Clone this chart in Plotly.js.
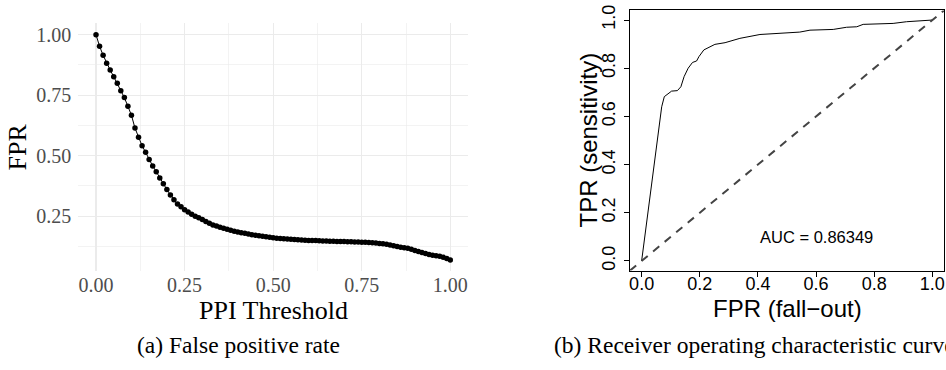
<!DOCTYPE html>
<html>
<head>
<meta charset="utf-8">
<script src="https://cdn.plot.ly/plotly-3.0.1.min.js"></script>
<style>html,body{margin:0;padding:0;background:#fff;}#chart{width:946px;height:370px;}</style>
</head>
<body>
<div id="chart"></div>
<script>
// Panel (a): FPR vs PPI threshold
const thresholds = [0.00,0.01,0.02,0.03,0.04,0.05,0.06,0.07,0.08,0.09,0.10,0.11,0.12,0.13,0.14,0.15,0.16,0.17,0.18,0.19,0.20,0.21,0.22,0.23,0.24,0.25,0.26,0.27,0.28,0.29,0.30,0.31,0.32,0.33,0.34,0.35,0.36,0.37,0.38,0.39,0.40,0.41,0.42,0.43,0.44,0.45,0.46,0.47,0.48,0.49,0.50,0.51,0.52,0.53,0.54,0.55,0.56,0.57,0.58,0.59,0.60,0.61,0.62,0.63,0.64,0.65,0.66,0.67,0.68,0.69,0.70,0.71,0.72,0.73,0.74,0.75,0.76,0.77,0.78,0.79,0.80,0.81,0.82,0.83,0.84,0.85,0.86,0.87,0.88,0.89,0.90,0.91,0.92,0.93,0.94,0.95,0.96,0.97,0.98,0.99,1.00];
const fprValues = [1.000,0.952,0.915,0.882,0.854,0.826,0.799,0.768,0.740,0.704,0.667,0.614,0.576,0.541,0.514,0.484,0.457,0.434,0.408,0.384,0.360,0.338,0.318,0.300,0.289,0.277,0.267,0.258,0.250,0.243,0.236,0.228,0.221,0.214,0.209,0.204,0.200,0.196,0.192,0.188,0.185,0.182,0.179,0.176,0.173,0.171,0.169,0.167,0.165,0.163,0.161,0.159,0.158,0.157,0.156,0.155,0.154,0.153,0.152,0.151,0.150,0.149,0.149,0.148,0.147,0.147,0.146,0.146,0.145,0.145,0.145,0.144,0.144,0.143,0.143,0.142,0.142,0.141,0.140,0.139,0.137,0.136,0.134,0.131,0.128,0.125,0.122,0.120,0.117,0.113,0.108,0.104,0.100,0.096,0.092,0.089,0.086,0.084,0.080,0.075,0.069];
const leftTicks = [0.00,0.25,0.50,0.75,1.00];
const leftTickText = ["0.00","0.25","0.50","0.75","1.00"];
const leftYTicks = [0.25,0.50,0.75,1.00];
const leftYTickText = ["0.25","0.50","0.75","1.00"];

// Panel (b): ROC curve
const rocFPR = [0.000,0.023,0.046,0.069,0.078,0.090,0.103,0.123,0.135,0.146,0.160,0.175,0.189,0.197,0.214,0.252,0.287,0.338,0.407,0.544,0.579,0.659,0.705,0.740,0.762,0.865,0.911,1.000];
const rocTPR = [0.000,0.210,0.433,0.640,0.682,0.695,0.705,0.707,0.723,0.765,0.800,0.824,0.830,0.848,0.876,0.899,0.906,0.924,0.940,0.950,0.958,0.961,0.970,0.972,0.982,0.986,0.993,1.000];
const diagonal = [-0.04, 1.04];
const rocTicks = [0.0,0.2,0.4,0.6,0.8,1.0];
const rocTickText = ["0.0","0.2","0.4","0.6","0.8","1.0"];
const aucLabel = "AUC = 0.86349";
const aucPos = [0.6, 0.1];

const W = 946, H = 370;
const px = v => v / W, py = v => 1 - v / H;

const serif = "Liberation Serif, Times New Roman, serif";
const sans = "Liberation Sans, Arial, Helvetica, sans-serif";

const traces = [
  {x: thresholds, y: fprValues, xaxis: "x", yaxis: "y", type: "scatter", mode: "lines+markers",
   line: {color: "#000", width: 1}, marker: {color: "#000", size: 5.5}},
  {x: rocFPR, y: rocTPR, xaxis: "x2", yaxis: "y2", type: "scatter", mode: "lines",
   line: {color: "#000", width: 1}},
  {x: diagonal, y: diagonal, xaxis: "x2", yaxis: "y2", type: "scatter", mode: "lines",
   line: {color: "#444", width: 2, dash: "8px,7px"}}
];

const grid = "#ebebeb";
const layout = {
  width: W, height: H, margin: {l: 0, r: 0, t: 0, b: 0},
  paper_bgcolor: "#fff", plot_bgcolor: "#fff", showlegend: false,
  xaxis: {anchor: "y", domain: [px(78.3), px(468)], range: [-0.05, 1.05], tickmode: "array",
    tickvals: leftTicks, ticktext: leftTickText, showgrid: true, gridcolor: grid, gridwidth: 1.1,
    minor: {tick0: 0.125, dtick: 0.25, showgrid: true, gridcolor: grid, gridwidth: 0.6},
    zeroline: false, showline: false, ticks: "", ticklabelstandoff: 0,
    tickfont: {family: serif, size: 20, color: "#4d4d4d"}},
  yaxis: {anchor: "x", domain: [py(271), py(23.4)], range: [0.0235, 1.0465], tickmode: "array",
    tickvals: leftYTicks, ticktext: leftYTickText, showgrid: true, gridcolor: grid, gridwidth: 1.1,
    minor: {tick0: 0.125, dtick: 0.25, showgrid: true, gridcolor: grid, gridwidth: 0.6},
    zeroline: false, showline: false, ticks: "", ticklabelstandoff: 6,
    tickfont: {family: serif, size: 20, color: "#4d4d4d"}},
  xaxis2: {anchor: "y2", domain: [px(630), px(944)], range: [-0.04, 1.04], tickmode: "array",
    tickvals: rocTicks, ticktext: rocTickText, showgrid: false, zeroline: false,
    showline: true, mirror: true, linecolor: "#000", linewidth: 1,
    ticks: "outside", ticklen: 5, tickcolor: "#000", tickwidth: 1, ticklabelstandoff: -8,
    tickfont: {family: sans, size: 18, color: "#000"}},
  yaxis2: {anchor: "x2", domain: [py(270.6), py(10.4)], range: [-0.04, 1.04], tickmode: "array",
    tickvals: rocTicks, ticktext: rocTickText, showgrid: false, zeroline: false,
    showline: true, mirror: true, linecolor: "#000", linewidth: 1, tickangle: -90,
    ticks: "outside", ticklen: 5, tickcolor: "#000", tickwidth: 1, ticklabelstandoff: 2,
    tickfont: {family: sans, size: 18, color: "#000"}},
  annotations: [
    {xref: "x2", yref: "y2", x: aucPos[0], y: aucPos[1], text: aucLabel, showarrow: false,
     font: {family: sans, size: 16.5, color: "#000"}, xanchor: "center", yanchor: "middle"},
    {xref: "paper", yref: "paper", x: px(273), y: py(310), text: "PPI Threshold", showarrow: false,
     font: {family: serif, size: 26, color: "#000"}, xanchor: "center", yanchor: "middle"},
    {xref: "paper", yref: "paper", x: px(17.5), y: py(147), text: "FPR", showarrow: false, textangle: -90,
     font: {family: serif, size: 26, color: "#000"}, xanchor: "center", yanchor: "middle"},
    {xref: "paper", yref: "paper", x: px(787), y: py(308), text: "FPR (fall\u2212out)", showarrow: false,
     font: {family: sans, size: 24, color: "#000"}, xanchor: "center", yanchor: "middle"},
    {xref: "paper", yref: "paper", x: px(588), y: py(140.5), text: "TPR (sensitivity)", showarrow: false, textangle: -90,
     font: {family: sans, size: 24, color: "#000"}, xanchor: "center", yanchor: "middle"},
    {xref: "paper", yref: "paper", x: px(238), y: py(345), text: "(a) False positive rate", showarrow: false,
     font: {family: serif, size: 23.5, color: "#000"}, xanchor: "center", yanchor: "middle"},
    {xref: "paper", yref: "paper", x: px(552), y: py(345), text: "(b) Receiver operating characteristic curve", showarrow: false,
     font: {family: serif, size: 23.5, color: "#000"}, xanchor: "left", yanchor: "middle"}
  ]
};

Plotly.newPlot("chart", traces, layout, {displayModeBar: false, staticPlot: true});
</script>
</body>
</html>
